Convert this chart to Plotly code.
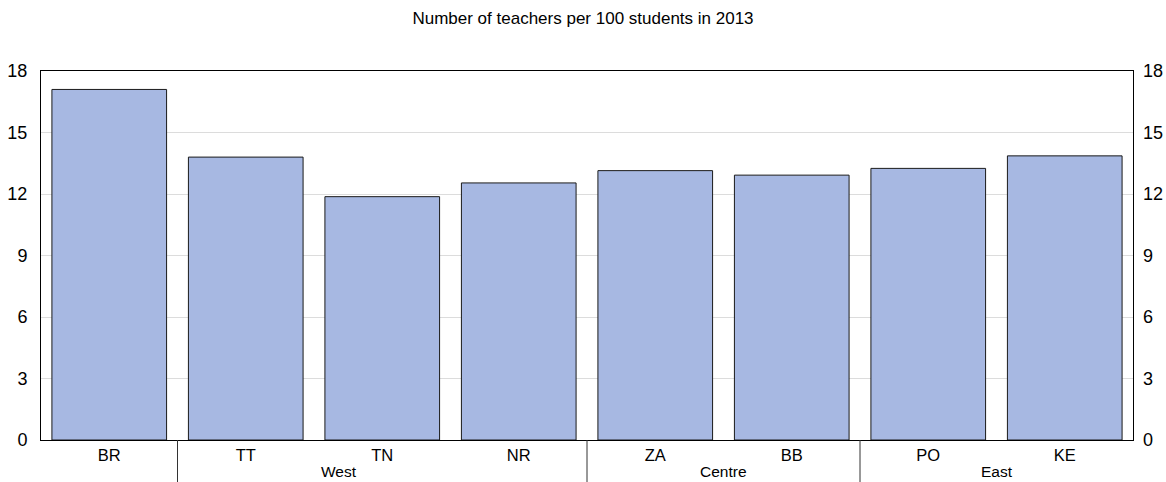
import plotly.graph_objects as go

categories = ["BR", "TT", "TN", "NR", "ZA", "BB", "PO", "KE"]
values = [17.1, 13.8, 11.87, 12.54, 13.14, 12.92, 13.25, 13.86]
groups = ["West", "Centre", "East"]
group_label_pos = [1.68, 4.5, 6.5]
separators = [0.5, 3.5, 5.5]
yticks = [0, 3, 6, 9, 12, 15, 18]

FONT = "Liberation Sans, Arial, sans-serif"

fig = go.Figure()
fig.add_trace(go.Bar(
    x=categories, y=values,
    marker=dict(color="#A7B8E2", line=dict(color="#1a1a1a", width=1)),
    showlegend=False, hoverinfo="x+y",
))
fig.add_trace(go.Scatter(
    x=categories, y=values, yaxis="y2", mode="markers",
    marker=dict(opacity=0), showlegend=False, hoverinfo="skip",
))

for s in separators:
    fig.add_shape(type="line", xref="x", yref="paper", x0=s, x1=s, y0=0, y1=-0.12,
                  line=dict(color="#333333", width=1))
for g, p in zip(groups, group_label_pos):
    fig.add_annotation(x=p, y=-0.086, xref="x", yref="paper", text=g, showarrow=False,
                       yanchor="middle", font=dict(family=FONT, size=15.5, color="#000"))

fig.update_layout(
    width=1166, height=482,
    margin=dict(l=41, r=33, t=71, b=42, autoexpand=False),
    paper_bgcolor="white", plot_bgcolor="white",
    bargap=0.16,
    title=dict(text="Number of teachers per 100 students in 2013", x=0.5, xanchor="center",
               y=0.9627, yanchor="middle", font=dict(family=FONT, size=17, color="#000")),
    xaxis=dict(showline=True, linecolor="#000", linewidth=1, mirror=True, ticks="",
               tickfont=dict(family=FONT, size=16.5, color="#000"), showgrid=False,
               range=[-0.5, 7.5], automargin=False),
    yaxis=dict(range=[0, 18], tickvals=yticks, showline=True, linecolor="#000", linewidth=1,
               mirror=True, gridcolor="#dcdcdc", gridwidth=1, ticks="", zeroline=False,
               ticklabelstandoff=9,
               tickfont=dict(family=FONT, size=18, color="#000"), automargin=False),
    yaxis2=dict(range=[0, 18], tickvals=yticks, overlaying="y", side="right", showgrid=False,
                ticks="", zeroline=False, showline=False, automargin=False,
                ticklabelstandoff=9,
                tickfont=dict(family=FONT, size=18, color="#000")),
)

fig.write_html("out.html", config={"displayModeBar": False})

with open("out.html", "r", encoding="utf-8") as f:
    html = f.read()
html = html.replace("<body>", '<body style="margin:0;overflow:hidden">', 1)
with open("out.html", "w", encoding="utf-8") as f:
    f.write(html)
